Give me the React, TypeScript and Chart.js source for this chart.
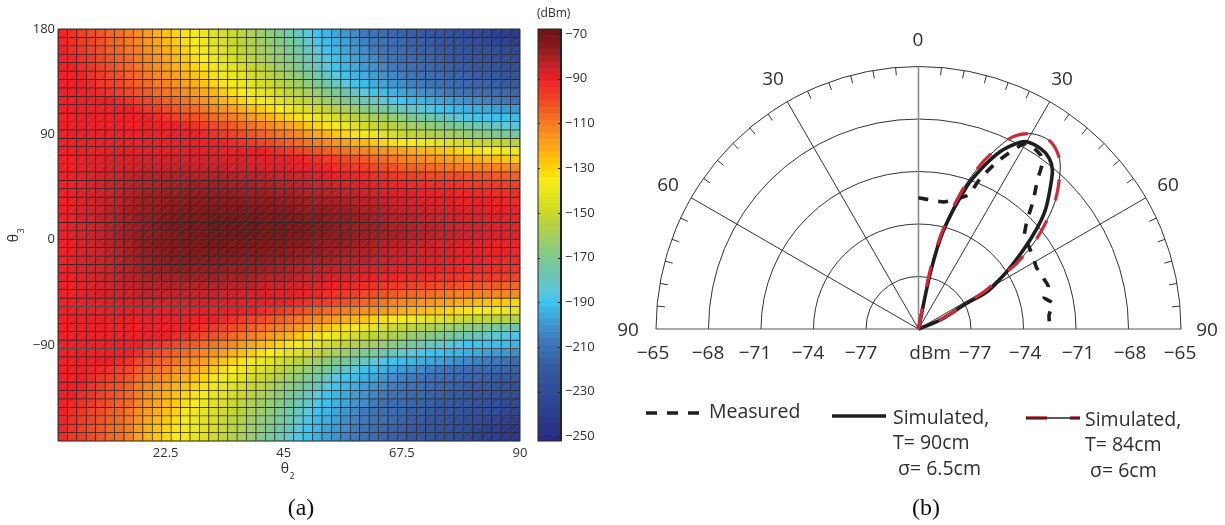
import React, { useEffect, useRef } from "react";
import { Chart, registerables } from "chart.js";
Chart.register(...registerables);

// ---- left panel: received power (dBm), top row first, left column first ----
const powerRows: number[][] = [
[-91,-94,-97,-100,-102,-105,-107,-110,-114,-118,-122,-126,-130,-133,-137,-140,-143,-147,-150,-154,-158,-162,-166,-170,-175,-180,-185,-190,-193,-197,-200,-203,-207,-210,-212,-214,-216,-218,-220,-222,-224,-226,-228,-230,-233,-235,-238,-240,-243],
[-91,-93,-96,-98,-101,-104,-106,-109,-112,-116,-120,-124,-128,-132,-135,-139,-143,-146,-150,-154,-157,-161,-165,-168,-172,-177,-182,-187,-192,-195,-198,-202,-205,-208,-210,-212,-214,-216,-218,-220,-222,-224,-226,-228,-230,-232,-235,-237,-240],
[-90,-93,-95,-98,-100,-103,-105,-108,-110,-114,-118,-122,-126,-130,-134,-137,-141,-144,-148,-152,-155,-159,-163,-166,-170,-175,-180,-185,-190,-193,-197,-200,-203,-207,-210,-212,-213,-215,-217,-218,-220,-222,-223,-225,-227,-228,-230,-232,-234],
[-90,-91,-94,-96,-99,-101,-104,-106,-109,-112,-116,-120,-124,-128,-132,-135,-139,-143,-146,-150,-154,-157,-161,-165,-168,-172,-177,-182,-187,-191,-194,-197,-200,-203,-207,-210,-212,-213,-215,-216,-218,-220,-221,-223,-224,-226,-228,-229,-231],
[-90,-90,-93,-95,-98,-100,-103,-105,-108,-110,-114,-118,-122,-126,-130,-133,-137,-140,-143,-147,-150,-154,-158,-162,-166,-170,-175,-180,-185,-190,-193,-196,-199,-201,-204,-207,-210,-211,-213,-214,-216,-217,-219,-220,-222,-223,-225,-226,-228],
[-90,-90,-91,-94,-96,-99,-101,-104,-106,-109,-112,-116,-119,-123,-126,-130,-133,-137,-140,-143,-147,-150,-154,-158,-162,-166,-170,-175,-180,-185,-190,-193,-195,-198,-201,-203,-206,-209,-211,-212,-213,-215,-216,-217,-219,-220,-221,-223,-224],
[-90,-90,-90,-92,-95,-97,-99,-102,-104,-106,-109,-111,-115,-119,-122,-126,-130,-133,-137,-140,-143,-147,-150,-154,-158,-162,-166,-170,-175,-180,-185,-190,-192,-195,-197,-200,-202,-205,-207,-210,-211,-212,-213,-214,-215,-216,-218,-219,-220],
[-90,-90,-90,-91,-92,-94,-97,-99,-101,-103,-106,-108,-110,-114,-117,-121,-124,-128,-132,-135,-138,-142,-145,-148,-152,-156,-160,-164,-168,-172,-176,-181,-185,-190,-192,-194,-197,-199,-201,-203,-205,-208,-210,-211,-212,-213,-213,-214,-215],
[-90,-90,-90,-90,-90,-90,-92,-94,-97,-99,-101,-104,-106,-108,-112,-115,-119,-123,-126,-130,-133,-137,-140,-143,-147,-150,-154,-158,-162,-166,-170,-173,-177,-180,-183,-187,-190,-192,-193,-195,-197,-198,-200,-202,-203,-205,-207,-208,-210],
[-90,-90,-90,-90,-90,-90,-90,-90,-92,-95,-97,-99,-102,-104,-106,-109,-112,-115,-118,-122,-125,-128,-132,-135,-138,-142,-145,-148,-152,-156,-159,-163,-167,-170,-173,-176,-179,-181,-184,-187,-190,-191,-193,-194,-195,-196,-198,-199,-200],
[-90,-90,-90,-90,-90,-90,-90,-90,-90,-90,-92,-94,-97,-99,-101,-103,-106,-108,-110,-113,-117,-120,-123,-127,-130,-133,-137,-140,-143,-147,-150,-153,-156,-159,-161,-164,-167,-170,-173,-176,-179,-181,-184,-187,-190,-190,-191,-191,-192],
[-90,-90,-90,-90,-90,-90,-90,-90,-90,-90,-90,-90,-90,-92,-94,-97,-99,-101,-103,-106,-108,-110,-113,-117,-120,-123,-127,-130,-133,-137,-140,-143,-147,-150,-153,-155,-158,-160,-163,-165,-168,-170,-172,-175,-177,-179,-181,-184,-186],
[-90,-90,-90,-90,-90,-90,-90,-90,-90,-90,-90,-90,-90,-90,-90,-92,-94,-96,-98,-100,-102,-104,-106,-108,-110,-113,-117,-120,-123,-127,-130,-133,-137,-140,-143,-147,-150,-152,-154,-156,-158,-160,-162,-164,-166,-168,-170,-172,-174],
[-90,-90,-90,-89,-89,-89,-89,-89,-89,-89,-89,-89,-89,-89,-89,-90,-90,-90,-92,-94,-96,-98,-100,-102,-104,-106,-108,-110,-113,-116,-119,-122,-124,-127,-130,-132,-134,-136,-138,-140,-142,-144,-146,-148,-150,-151,-152,-154,-155],
[-90,-90,-89,-89,-89,-88,-88,-88,-88,-88,-88,-88,-88,-88,-88,-88,-88,-89,-89,-89,-89,-90,-92,-94,-96,-98,-100,-102,-104,-106,-108,-110,-112,-114,-115,-117,-119,-121,-123,-124,-126,-128,-130,-132,-133,-135,-137,-138,-140],
[-90,-90,-89,-88,-88,-87,-87,-87,-86,-86,-86,-86,-86,-86,-86,-86,-86,-87,-87,-87,-88,-88,-88,-89,-89,-90,-92,-94,-96,-97,-99,-101,-103,-105,-106,-108,-110,-112,-113,-115,-116,-118,-119,-121,-122,-124,-125,-127,-128],
[-90,-90,-89,-88,-87,-86,-86,-85,-85,-84,-84,-84,-84,-84,-84,-84,-84,-84,-85,-85,-86,-86,-87,-87,-88,-88,-89,-90,-91,-93,-94,-96,-97,-99,-100,-101,-103,-104,-105,-106,-107,-108,-109,-110,-110,-111,-111,-112,-112],
[-90,-90,-89,-88,-87,-86,-85,-84,-83,-83,-82,-82,-82,-82,-82,-82,-82,-82,-82,-83,-83,-83,-84,-85,-85,-86,-86,-87,-88,-89,-90,-91,-92,-93,-94,-95,-96,-97,-98,-99,-99,-100,-100,-101,-102,-102,-103,-103,-104],
[-90,-90,-89,-88,-86,-85,-84,-83,-82,-82,-81,-80,-80,-80,-79,-79,-79,-79,-80,-80,-80,-81,-81,-82,-83,-83,-84,-85,-85,-86,-87,-88,-88,-89,-90,-91,-91,-92,-92,-93,-93,-94,-94,-95,-95,-96,-96,-97,-97],
[-90,-89,-88,-87,-86,-85,-83,-82,-81,-80,-79,-78,-78,-77,-77,-77,-77,-77,-77,-78,-78,-78,-79,-80,-80,-81,-82,-82,-83,-83,-84,-84,-85,-86,-87,-87,-88,-88,-89,-89,-90,-90,-91,-91,-92,-92,-93,-93,-93],
[-90,-89,-88,-87,-85,-84,-83,-81,-80,-79,-78,-77,-76,-76,-75,-75,-75,-75,-75,-75,-76,-76,-76,-77,-78,-78,-79,-80,-80,-80,-81,-82,-83,-83,-84,-85,-85,-86,-87,-87,-88,-88,-89,-89,-90,-90,-91,-91,-92],
[-90,-89,-88,-86,-85,-83,-82,-80,-79,-78,-77,-76,-75,-74,-74,-73,-73,-73,-73,-73,-73,-74,-74,-75,-75,-76,-77,-77,-77,-78,-79,-80,-81,-81,-82,-83,-84,-84,-85,-86,-86,-87,-87,-88,-88,-89,-89,-90,-90],
[-90,-89,-87,-86,-84,-83,-81,-80,-78,-77,-76,-75,-74,-73,-72,-72,-71,-71,-71,-71,-71,-72,-72,-73,-73,-74,-75,-75,-76,-77,-77,-78,-79,-80,-81,-82,-82,-83,-84,-84,-85,-86,-86,-87,-87,-88,-88,-89,-89],
[-90,-88,-87,-85,-84,-82,-81,-79,-78,-77,-75,-74,-73,-72,-71,-71,-70,-70,-70,-70,-70,-70,-71,-71,-72,-73,-73,-74,-75,-76,-77,-78,-78,-79,-80,-81,-81,-82,-83,-83,-84,-85,-85,-86,-86,-87,-88,-88,-89],
[-90,-88,-87,-85,-84,-82,-80,-79,-77,-76,-75,-74,-73,-72,-71,-70,-70,-69,-69,-69,-69,-70,-70,-71,-72,-72,-73,-74,-75,-76,-76,-77,-78,-79,-80,-80,-81,-82,-82,-83,-84,-84,-85,-85,-86,-87,-87,-88,-88],
[-90,-89,-87,-86,-84,-83,-81,-80,-77,-76,-75,-74,-73,-72,-72,-71,-71,-71,-71,-71,-72,-72,-73,-73,-74,-75,-75,-76,-77,-77,-78,-79,-80,-81,-82,-82,-83,-84,-84,-85,-86,-86,-87,-87,-88,-88,-89,-89,-90],
[-90,-89,-88,-86,-85,-83,-82,-80,-78,-77,-76,-75,-74,-74,-73,-73,-73,-73,-73,-73,-74,-74,-75,-75,-76,-77,-77,-77,-78,-79,-80,-81,-81,-82,-83,-84,-84,-85,-86,-86,-87,-87,-88,-88,-89,-89,-90,-90,-91],
[-90,-89,-88,-87,-85,-84,-83,-81,-79,-78,-77,-76,-76,-75,-75,-75,-75,-75,-75,-76,-76,-76,-77,-78,-78,-79,-80,-80,-80,-81,-82,-83,-83,-84,-85,-85,-86,-87,-87,-88,-88,-89,-89,-90,-90,-91,-91,-92,-92],
[-90,-89,-88,-87,-86,-85,-83,-82,-80,-79,-78,-78,-77,-77,-77,-77,-77,-77,-78,-78,-78,-79,-80,-80,-81,-82,-82,-83,-83,-84,-84,-85,-86,-87,-87,-88,-88,-89,-89,-90,-90,-91,-91,-92,-92,-93,-93,-93,-94],
[-90,-90,-89,-88,-86,-85,-84,-83,-82,-81,-80,-80,-80,-79,-79,-79,-79,-80,-80,-80,-81,-81,-82,-83,-83,-84,-85,-85,-86,-87,-88,-88,-89,-90,-91,-91,-92,-92,-93,-93,-94,-94,-95,-95,-96,-96,-97,-97,-98],
[-90,-90,-89,-88,-87,-86,-85,-84,-83,-82,-82,-82,-82,-82,-82,-82,-82,-82,-83,-83,-83,-84,-85,-85,-86,-86,-87,-88,-89,-90,-91,-92,-93,-94,-95,-96,-97,-98,-99,-99,-100,-100,-101,-102,-102,-103,-103,-104,-105],
[-90,-90,-89,-88,-87,-86,-86,-85,-84,-84,-84,-84,-84,-84,-84,-84,-84,-85,-85,-86,-86,-87,-87,-88,-88,-89,-90,-91,-93,-94,-96,-97,-99,-100,-101,-103,-104,-105,-106,-107,-108,-109,-110,-110,-111,-111,-112,-112,-113],
[-90,-90,-89,-88,-88,-87,-87,-87,-86,-86,-86,-86,-86,-86,-86,-86,-87,-87,-87,-88,-88,-88,-89,-89,-90,-92,-94,-96,-97,-99,-101,-103,-105,-106,-108,-110,-112,-113,-115,-116,-118,-119,-121,-122,-124,-125,-127,-128,-130],
[-90,-90,-89,-89,-89,-88,-88,-88,-88,-88,-88,-88,-88,-88,-88,-88,-89,-89,-89,-89,-90,-92,-94,-96,-98,-100,-102,-104,-106,-108,-110,-112,-114,-115,-117,-119,-121,-123,-124,-126,-128,-130,-132,-133,-135,-137,-138,-140,-142],
[-90,-90,-90,-89,-89,-89,-89,-89,-89,-89,-89,-89,-89,-89,-90,-90,-90,-92,-94,-96,-98,-100,-102,-104,-106,-108,-110,-113,-116,-119,-122,-124,-127,-130,-132,-134,-136,-138,-140,-142,-144,-146,-148,-150,-151,-152,-154,-155,-157],
[-90,-90,-90,-90,-90,-90,-90,-90,-90,-90,-90,-90,-90,-90,-92,-94,-96,-98,-100,-102,-104,-106,-108,-110,-113,-117,-120,-123,-127,-130,-133,-137,-140,-143,-147,-150,-152,-154,-156,-158,-160,-162,-164,-166,-168,-170,-172,-174,-176],
[-90,-90,-90,-90,-90,-90,-90,-90,-90,-90,-90,-90,-92,-94,-97,-99,-101,-103,-106,-108,-110,-113,-117,-120,-123,-127,-130,-133,-137,-140,-143,-147,-150,-153,-155,-158,-160,-163,-165,-168,-170,-172,-175,-177,-179,-181,-184,-186,-188],
[-90,-90,-90,-90,-90,-90,-90,-90,-90,-92,-94,-97,-99,-101,-103,-106,-108,-110,-113,-117,-120,-123,-127,-130,-133,-137,-140,-143,-147,-150,-153,-156,-159,-161,-164,-167,-170,-173,-176,-179,-181,-184,-187,-190,-190,-191,-191,-192,-194],
[-90,-90,-90,-90,-90,-90,-90,-90,-93,-97,-99,-102,-104,-106,-109,-112,-115,-118,-122,-125,-128,-132,-135,-138,-142,-145,-148,-152,-156,-159,-163,-167,-170,-173,-176,-179,-181,-184,-187,-190,-191,-193,-194,-195,-196,-198,-199,-200,-202],
[-90,-90,-90,-90,-90,-90,-92,-94,-99,-101,-104,-106,-108,-112,-115,-119,-123,-126,-130,-133,-137,-140,-143,-147,-150,-154,-158,-162,-166,-170,-173,-177,-180,-183,-187,-190,-192,-193,-195,-197,-198,-200,-202,-203,-205,-207,-208,-210,-212],
[-90,-90,-90,-91,-92,-94,-97,-99,-103,-106,-108,-110,-114,-117,-121,-124,-128,-132,-135,-138,-142,-145,-148,-152,-156,-160,-164,-168,-172,-176,-181,-185,-190,-192,-194,-197,-199,-201,-203,-205,-208,-210,-211,-212,-213,-213,-214,-215,-217],
[-90,-90,-90,-92,-95,-97,-99,-102,-106,-109,-111,-115,-119,-122,-126,-130,-133,-137,-140,-143,-147,-150,-154,-158,-162,-166,-170,-175,-180,-185,-190,-192,-195,-197,-200,-202,-205,-207,-210,-211,-212,-213,-214,-215,-216,-218,-219,-220,-222],
[-90,-90,-91,-94,-96,-99,-101,-104,-109,-112,-116,-119,-123,-126,-130,-133,-137,-140,-143,-147,-150,-154,-158,-162,-166,-170,-175,-180,-185,-190,-193,-195,-198,-201,-203,-206,-209,-211,-212,-213,-215,-216,-217,-219,-220,-221,-223,-224,-226],
[-90,-90,-93,-95,-98,-100,-103,-105,-110,-114,-118,-122,-126,-130,-133,-137,-140,-143,-147,-150,-154,-158,-162,-166,-170,-175,-180,-185,-190,-193,-196,-199,-201,-204,-207,-210,-211,-213,-214,-216,-217,-219,-220,-222,-223,-225,-226,-228,-230],
[-90,-91,-94,-96,-99,-101,-104,-106,-112,-116,-120,-124,-128,-132,-135,-139,-143,-146,-150,-154,-157,-161,-165,-168,-172,-177,-182,-187,-191,-194,-197,-200,-203,-207,-210,-212,-213,-215,-216,-218,-220,-221,-223,-224,-226,-228,-229,-231,-233],
[-90,-93,-95,-98,-100,-103,-105,-108,-114,-118,-122,-126,-130,-134,-137,-141,-144,-148,-152,-155,-159,-163,-166,-170,-175,-180,-185,-190,-193,-197,-200,-203,-207,-210,-212,-213,-215,-217,-218,-220,-222,-223,-225,-227,-228,-230,-232,-234,-236],
[-91,-93,-96,-98,-101,-104,-106,-109,-116,-120,-124,-128,-132,-135,-139,-143,-146,-150,-154,-157,-161,-165,-168,-172,-177,-182,-187,-192,-195,-198,-202,-205,-208,-210,-212,-214,-216,-218,-220,-222,-224,-226,-228,-230,-232,-235,-237,-240,-242],
[-91,-94,-97,-100,-102,-105,-107,-110,-118,-122,-126,-130,-133,-137,-140,-143,-147,-150,-154,-158,-162,-166,-170,-175,-180,-185,-190,-193,-197,-200,-203,-207,-210,-212,-214,-216,-218,-220,-222,-224,-226,-228,-230,-233,-235,-238,-240,-243,-245],
[-92,-95,-97,-100,-102,-105,-107,-110,-119,-123,-127,-131,-134,-138,-141,-145,-148,-152,-156,-160,-164,-168,-172,-177,-182,-187,-191,-195,-198,-201,-205,-208,-211,-213,-215,-217,-219,-221,-223,-225,-227,-229,-231,-234,-236,-239,-241,-244,-246],
];
const theta2Ticks = [22.5, 45, 67.5, 90];
const theta3Ticks = [-90, 0, 90, 180];
const colorbarTicks = [-70, -90, -110, -130, -150, -170, -190, -210, -230, -250];

// ---- right panel: polar pattern, angle in degrees (clockwise from 0), level in dBm ----
const measuredAngles = [0, 11.1, 15.9, 20.5, 22.3, 25.3, 28.5, 30.4, 35, 36.8, 38.6, 41.9, 45.3, 49.7, 52.4, 59, 62.3, 67.8, 72, 76, 79, 84, 88];
const measuredDbm = [-72.5, -72.6, -72.3, -71.8, -70.7, -69.4, -68.2, -67.7, -67.85, -68.2, -69.1, -70.2, -71.3, -72.1, -72.1, -72.3, -72.4, -72.3, -72.2, -72.6, -72.2, -72.5, -72.5];
const sim90Angles = [8, 11.9, 14.2, 18.7, 21.8, 24.7, 27.9, 30, 34, 37.3, 40, 42.8, 46.8, 49.6, 53, 57, 61.4, 62, 67.5, 70];
const sim90Dbm = [-80, -76.75, -74.2, -71.4, -70, -68.85, -68, -67.65, -67.55, -67.7, -68.1, -68.9, -70.05, -71.1, -72.5, -74, -75.5, -76.9, -78.65, -80];
const sim84Angles = [8, 11.2, 13.9, 17.7, 20.6, 22.9, 26, 30.1, 35.1, 39.8, 43.4, 47.2, 50.7, 53.3, 56.2, 57.4, 59.9, 62, 67, 70];
const sim84Dbm = [-80, -76.55, -74.07, -71.55, -70, -69, -67.8, -67.1, -66.9, -67.4, -68.3, -69.4, -70.75, -71.8, -73.25, -74.45, -75.44, -76.9, -78.7, -80];
const ringLevels = [-77, -74, -71, -68, -65];
const spokeAngles = [-60, -30, 30, 60];
const radialLabels = ["−65", "−68", "−71", "−74", "−77", "dBm", "−77", "−74", "−71", "−68", "−65"];
const angleLabels = ["90", "60", "30", "0", "30", "60", "90"];

const SANS = '"Open Sans", sans-serif';
const SERIF = '"Liberation Serif", serif';
const INK = "#2f2f2f";

const stops: [number, string][] = [
  [-67, "#651314"], [-75, "#851a1c"], [-80, "#a31f24"], [-85, "#c8232a"], [-90, "#ed1f26"],
  [-100, "#f04a24"], [-110, "#f57e20"], [-120, "#fba51a"], [-128, "#ffcb05"], [-135, "#f9ed13"],
  [-145, "#dde01f"], [-152, "#c2d52f"], [-160, "#a5cf5f"], [-170, "#7ec98f"], [-178, "#6bc5b4"],
  [-185, "#5cc6dd"], [-190, "#3cc4ee"], [-198, "#3e9ed6"], [-207, "#3f78bc"], [-220, "#35589f"],
  [-235, "#2d4593"], [-252, "#2a2a80"],
];
const hex = (s: string) => [1, 3, 5].map((i) => parseInt(s.slice(i, i + 2), 16));
function colorOf(v: number): string {
  if (v >= stops[0][0]) return stops[0][1];
  for (let i = 1; i < stops.length; i++) {
    if (v >= stops[i][0]) {
      const t = (stops[i - 1][0] - v) / (stops[i - 1][0] - stops[i][0]);
      const a = hex(stops[i - 1][1]);
      const b = hex(stops[i][1]);
      return `rgb(${a.map((c, k) => Math.round(c + (b[k] - c) * t)).join(",")})`;
    }
  }
  return stops[stops.length - 1][1];
}
const minus = (v: number) => String(v).replace("-", "−");
const polar = (angles: number[], dbm: number[]) =>
  angles.map((a, i) => {
    const r = dbm[i] + 80;
    const t = (a * Math.PI) / 180;
    return { x: r * Math.sin(t), y: r * Math.cos(t) };
  });

function text(ctx: CanvasRenderingContext2D, s: string, x: number, y: number, font: string, align: CanvasTextAlign = "left", color = INK) {
  ctx.font = font;
  ctx.fillStyle = color;
  ctx.textAlign = align;
  ctx.textBaseline = "middle";
  ctx.fillText(s, x, y);
}

function makeHeat(canvas: HTMLCanvasElement) {
  const X0 = 2, X1 = 90, Y0 = -172, Y1 = 180;
  const nR = powerRows.length;
  const nC = powerRows[0].length;
  const dX = (X1 - X0) / nC, dY = (Y1 - Y0) / nR;
  const datasets = powerRows.map((row, r) => ({
    data: row.map((_, c) => ({ x: X0 + (c + 0.5) * dX, y: [Y1 - (r + 1) * dY, Y1 - r * dY] })),
    backgroundColor: row.map(colorOf),
    borderColor: "#262626",
    borderWidth: 0.72,
    borderSkipped: false,
    barPercentage: 1,
    categoryPercentage: 1,
    grouped: false,
  }));
  return new Chart(canvas, {
    type: "bar",
    data: { datasets: datasets as any },
    options: {
      animation: false, responsive: false, devicePixelRatio: 1,
      layout: { padding: { top: 29, right: 532 - 520, left: 0, bottom: 0 } },
      plugins: { legend: { display: false }, tooltip: { enabled: false } },
      scales: {
        x: {
          type: "linear", min: X0, max: X1, offset: false,
          grid: { display: false, offset: false, drawTicks: false }, border: { display: false },
          afterBuildTicks: (s: any) => { s.ticks = theta2Ticks.map((value) => ({ value })); },
          afterFit: (s: any) => { s.height = 525 - 441; },
          ticks: { autoSkip: false, maxRotation: 0, padding: 4, color: INK, font: { family: "Open Sans", size: 13 }, callback: (v: any) => String(v) },
        },
        y: {
          type: "linear", min: Y0, max: Y1,
          grid: { display: false, drawTicks: false }, border: { display: false },
          afterBuildTicks: (s: any) => { s.ticks = theta3Ticks.map((value) => ({ value })); },
          afterFit: (s: any) => { s.width = 58; },
          ticks: { autoSkip: false, padding: 3, color: INK, font: { family: "Open Sans", size: 13 }, callback: (v: any) => minus(v) },
        },
      },
    },
    plugins: [{
      id: "cellDetail",
      afterDatasetsDraw(chart: any) {
        const ctx = chart.ctx as CanvasRenderingContext2D;
        const a = chart.chartArea;
        ctx.save();
        ctx.beginPath();
        chart.data.datasets.forEach((_: any, i: number) => {
          chart.getDatasetMeta(i).data.forEach((b: any) => {
            const l = b.x - b.width / 2, r = b.x + b.width / 2;
            ctx.moveTo(l, Math.max(b.y, b.base));
            ctx.lineTo(r, Math.min(b.y, b.base));
          });
        });
        ctx.setLineDash([1, 1.6]);
        ctx.lineWidth = 0.6;
        ctx.strokeStyle = "rgba(255,255,255,0.35)";
        ctx.stroke();
        ctx.setLineDash([]);
        ctx.lineWidth = 1;
        ctx.strokeStyle = "#333";
        ctx.beginPath();
        ctx.moveTo(a.left, a.bottom); ctx.lineTo(a.left, a.top); ctx.lineTo(a.right, a.top); ctx.lineTo(a.right, a.bottom);
        ctx.stroke();
        ctx.strokeStyle = "#8a8a8a";
        ctx.beginPath(); ctx.moveTo(a.left, a.bottom + 0.5); ctx.lineTo(a.right, a.bottom + 0.5); ctx.stroke();
        text(ctx, "θ", 285, 469, `14px ${SANS}`, "center");
        text(ctx, "2", 292, 476, `9px ${SANS}`, "center");
        ctx.translate(14, 238);
        ctx.rotate(-Math.PI / 2);
        text(ctx, "θ", 0, 0, `14px ${SANS}`, "center");
        text(ctx, "3", 7, 7, `9px ${SANS}`, "center");
        ctx.restore();
        ctx.save();
        text(ctx, "(a)", 301, 509, `24px ${SERIF}`, "center", "#111");
        ctx.restore();
      },
    }],
  } as any);
}

function makeBar(canvas: HTMLCanvasElement) {
  const TOP = -67.8, BOTTOM = -252;
  const N = 64;
  const step = (TOP - BOTTOM) / N;
  const datasets = Array.from({ length: N }, (_, i) => ({
    data: [[TOP - (i + 1) * step, TOP - i * step]],
    backgroundColor: colorOf(TOP - (i + 0.5) * step),
    borderWidth: 0,
    barPercentage: 1,
    categoryPercentage: 1,
    grouped: false,
  }));
  return new Chart(canvas, {
    type: "bar",
    data: { labels: ["dBm"], datasets: datasets as any },
    options: {
      animation: false, responsive: false, devicePixelRatio: 1,
      layout: { padding: { top: 29, left: 6, right: 0, bottom: 84 } },
      plugins: { legend: { display: false }, tooltip: { enabled: false } },
      scales: {
        x: { display: false },
        y: {
          position: "right", type: "linear", min: BOTTOM, max: TOP,
          grid: { display: false, drawTicks: false }, border: { display: false },
          afterBuildTicks: (s: any) => { s.ticks = colorbarTicks.map((value) => ({ value })); },
          afterFit: (s: any) => { s.width = 71; },
          ticks: { autoSkip: false, padding: 4, color: INK, font: { family: "Open Sans", size: 13 }, callback: (v: any) => minus(v) },
        },
      },
    },
    plugins: [{
      id: "barFrame",
      afterDraw(chart: any) {
        const ctx = chart.ctx as CanvasRenderingContext2D;
        const a = chart.chartArea;
        ctx.save();
        ctx.strokeStyle = "#222";
        ctx.lineWidth = 1;
        ctx.strokeRect(a.left, a.top, a.right - a.left, a.bottom - a.top);
        ctx.lineWidth = 2;
        ctx.beginPath(); ctx.moveTo(a.right, a.top); ctx.lineTo(a.right, a.bottom); ctx.stroke();
        ctx.lineWidth = 1;
        ctx.beginPath();
        colorbarTicks.forEach((v) => {
          const y = Math.round(chart.scales.y.getPixelForValue(v)) + 0.5;
          ctx.moveTo(a.right - 3, y); ctx.lineTo(a.right, y);
          ctx.moveTo(a.left, y); ctx.lineTo(a.left + 2, y);
        });
        ctx.stroke();
        text(ctx, "(dBm)", 5, 14, `12px ${SANS}`);
        ctx.restore();
      },
    }],
  } as any);
}

function makePolar(canvas: HTMLCanvasElement) {
  const curve = (angles: number[], dbm: number[], extra: any) => ({
    data: polar(angles, dbm), showLine: true, pointRadius: 0, tension: 0.3, clip: false, fill: false, ...extra,
  });
  return new Chart(canvas, {
    type: "scatter",
    data: {
      datasets: [
        curve(sim84Angles, sim84Dbm, { label: "Simulated, T= 84cm σ= 6cm", borderColor: "#cf2a3a", borderWidth: 3.2, borderDash: [21, 22] }),
        curve(sim84Angles, sim84Dbm, { label: "Simulated, T= 84cm σ= 6cm (core)", borderColor: "#222", borderWidth: 1 }),
        curve(sim90Angles, sim90Dbm, { label: "Simulated, T= 90cm σ= 6.5cm", borderColor: "#1e1e1e", borderWidth: 3.6 }),
        curve(measuredAngles, measuredDbm, { label: "Measured", borderColor: "#1e1e1e", borderWidth: 3.6, borderDash: [10, 10], tension: 0.2 }),
      ] as any,
    },
    options: {
      animation: false, responsive: false, devicePixelRatio: 1,
      layout: { padding: { top: 66.5, left: 56, right: 44, bottom: 196 } },
      plugins: { legend: { display: false }, tooltip: { enabled: false } },
      scales: {
        x: { type: "linear", display: false, min: -15, max: 15 },
        y: { type: "linear", display: false, min: 0, max: 15 },
      },
    },
    plugins: [{
      id: "polarFrame",
      beforeDatasetsDraw(chart: any) {
        const ctx = chart.ctx as CanvasRenderingContext2D;
        const sx = chart.scales.x, sy = chart.scales.y;
        const cx = sx.getPixelForValue(0), cy = sy.getPixelForValue(0);
        const unit = sx.getPixelForValue(1) - cx;
        ctx.save();
        ctx.strokeStyle = "#333";
        ctx.lineWidth = 1;
        ringLevels.forEach((lv) => {
          ctx.beginPath();
          ctx.arc(cx, cy, (lv + 80) * unit, Math.PI, 2 * Math.PI);
          ctx.stroke();
        });
        const R = 15 * unit;
        spokeAngles.forEach((d) => {
          const t = (d * Math.PI) / 180;
          ctx.beginPath(); ctx.moveTo(cx, cy); ctx.lineTo(cx + R * Math.sin(t), cy - R * Math.cos(t)); ctx.stroke();
        });
        for (let d = -85; d <= 85; d += 5) {
          if (d % 30 === 0) continue;
          const t = (d * Math.PI) / 180;
          ctx.beginPath();
          ctx.moveTo(cx + R * Math.sin(t), cy - R * Math.cos(t));
          ctx.lineTo(cx + (R - 8) * Math.sin(t), cy - (R - 8) * Math.cos(t));
          ctx.stroke();
        }
        ctx.strokeStyle = "#555";
        ctx.beginPath(); ctx.moveTo(cx - R, cy); ctx.lineTo(cx + R, cy); ctx.stroke();
        ctx.strokeStyle = "#8c8c8c";
        ctx.lineWidth = 1.6;
        ctx.beginPath(); ctx.moveTo(cx, cy); ctx.lineTo(cx, cy - R); ctx.stroke();
        ctx.restore();
      },
      afterDraw(chart: any) {
        const ctx = chart.ctx as CanvasRenderingContext2D;
        const O = 600;
        ctx.save();
        const big = `19px ${SANS}`;
        const leg = `19.5px ${SANS}`;
        const rX = [653, 708, 755, 808, 861, 930, 975, 1025, 1078, 1130, 1180];
        radialLabels.forEach((s, i) => text(ctx, s, rX[i] - O, 354, big, "center"));
        const aPos = [[628, 331], [668, 186], [773, 80], [918, 41], [1062, 80], [1168, 186], [1207, 331]];
        angleLabels.forEach((s, i) => text(ctx, s, aPos[i][0] - O, aPos[i][1], big, "center"));
        ctx.strokeStyle = "#1e1e1e";
        ctx.lineWidth = 3.6;
        ctx.setLineDash([11, 10]);
        ctx.beginPath(); ctx.moveTo(646 - O, 413); ctx.lineTo(700 - O, 413); ctx.stroke();
        ctx.setLineDash([]);
        ctx.beginPath(); ctx.moveTo(832 - O, 416); ctx.lineTo(886 - O, 416); ctx.stroke();
        ctx.strokeStyle = "#cf2a3a";
        ctx.beginPath(); ctx.moveTo(1026 - O, 418); ctx.lineTo(1047 - O, 418); ctx.moveTo(1070 - O, 418); ctx.lineTo(1080 - O, 418); ctx.stroke();
        ctx.strokeStyle = "#222";
        ctx.lineWidth = 1.4;
        ctx.beginPath(); ctx.moveTo(1026 - O, 418); ctx.lineTo(1080 - O, 418); ctx.stroke();
        text(ctx, "Measured", 709 - O, 412, leg);
        text(ctx, "Simulated,", 893 - O, 418, leg);
        text(ctx, "T= 90cm", 893 - O, 443, leg);
        text(ctx, "σ= 6.5cm", 898 - O, 469, leg);
        text(ctx, "Simulated,", 1085 - O, 420, leg);
        text(ctx, "T= 84cm", 1085 - O, 445, leg);
        text(ctx, "σ= 6cm", 1090 - O, 471, leg);
        text(ctx, "(b)", 926 - O, 509, `24px ${SERIF}`, "center", "#111");
        ctx.restore();
      },
    }],
  } as any);
}

export default function App() {
  const a = useRef<HTMLCanvasElement>(null);
  const b = useRef<HTMLCanvasElement>(null);
  const c = useRef<HTMLCanvasElement>(null);
  useEffect(() => {
    const charts = [makeHeat(a.current!), makeBar(b.current!), makePolar(c.current!)];
    return () => charts.forEach((ch) => ch.destroy());
  }, []);
  const pos = (left: number): React.CSSProperties => ({ position: "absolute", left, top: 0 });
  return (
    <div style={{ position: "fixed", left: 0, top: 0, width: 1225, height: 525, overflow: "hidden", background: "#fff" }}>
      <canvas ref={a} width={532} height={525} style={pos(0)} />
      <canvas ref={b} width={100} height={525} style={pos(532)} />
      <canvas ref={c} width={625} height={525} style={pos(600)} />
    </div>
  );
}
